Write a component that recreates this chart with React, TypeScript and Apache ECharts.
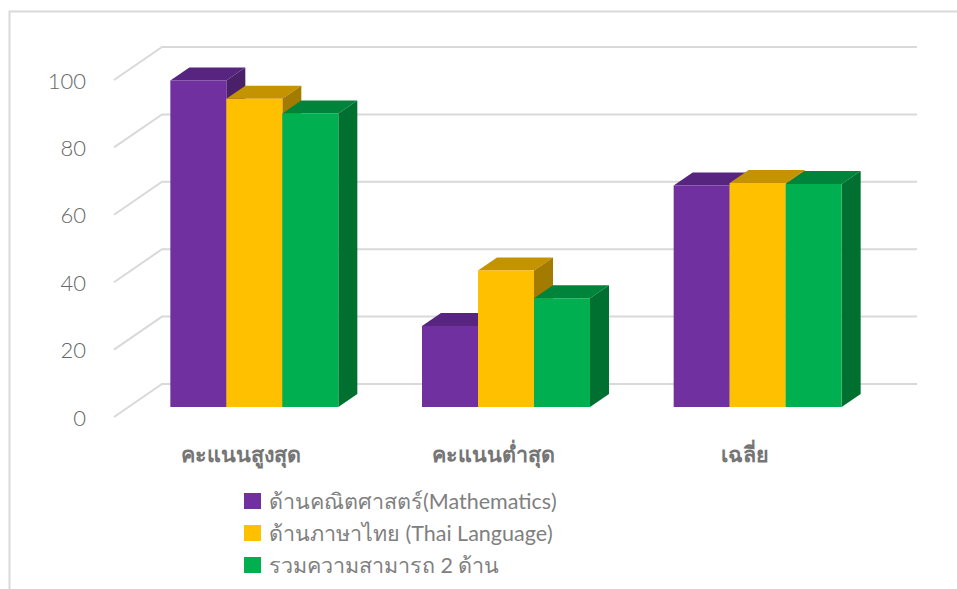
import React, { useEffect, useRef } from "react";
import * as echarts from "echarts";

const categories = ["คะแนนสูงสุด", "คะแนนต่ำสุด", "เฉลี่ย"];
const yTicks = [0, 20, 40, 60, 80, 100];
const mathValues = [96.9, 24, 65.7];
const thaiValues = [91.5, 40.5, 66.5];
const totalValues = [87.1, 32.3, 66.2];
const seriesNames = [
  "ด้านคณิตศาสตร์(Mathematics)",
  "ด้านภาษาไทย (Thai Language)",
  "รวมความสามารถ 2 ด้าน",
];
const faceColors = [
  { front: "#7030A0", top: "#572580", side: "#4A2069" },
  { front: "#FFC000", top: "#C49300", side: "#A37B00" },
  { front: "#00B050", top: "#00843C", side: "#007030" },
];

const FONT = "Lato, 'Noto Sans', sans-serif";
const FLOOR_DX = 48;
const FLOOR_DY = 33;
const BAR_DX = 19;
const BAR_DY = 13;
const BAR_FRACTION = 56 / 251.67;

function barSeries(name: string, values: number[], index: number) {
  const colors = faceColors[index];
  return {
    type: "custom",
    name,
    z: 5,
    itemStyle: { color: colors.front },
    data: values.map((v, i) => [i, v]),
    encode: { x: 0, y: 1 },
    renderItem: (_params: any, api: any) => {
      const cat = api.value(0);
      const val = api.value(1);
      const center = api.coord([cat, val]);
      const base = api.coord([cat, 0]);
      const w = api.size([1, 0])[0] * BAR_FRACTION;
      const offX = (FLOOR_DX - BAR_DX) / 2;
      const offY = (FLOOR_DY - BAR_DY) / 2;
      const x0 = center[0] + offX + (index - 1.5) * w;
      const x1 = x0 + w;
      const yTop = center[1] - offY;
      const yBase = base[1] - offY;
      return {
        type: "group",
        children: [
          {
            type: "polygon",
            shape: {
              points: [
                [x0, yTop],
                [x0 + BAR_DX, yTop - BAR_DY],
                [x1 + BAR_DX, yTop - BAR_DY],
                [x1, yTop],
              ],
            },
            style: { fill: colors.top },
          },
          {
            type: "polygon",
            shape: {
              points: [
                [x1, yTop],
                [x1 + BAR_DX, yTop - BAR_DY],
                [x1 + BAR_DX, yBase - BAR_DY],
                [x1, yBase],
              ],
            },
            style: { fill: colors.side },
          },
          {
            type: "rect",
            shape: { x: x0, y: yTop, width: w, height: yBase - yTop },
            style: { fill: colors.front },
          },
        ],
      };
    },
  };
}

export default function App() {
  const ref = useRef<HTMLDivElement>(null);

  useEffect(() => {
    const chart = echarts.init(ref.current!, undefined, { renderer: "svg" });
    chart.setOption({
      animation: false,
      backgroundColor: "#ffffff",
      textStyle: { fontFamily: FONT },
      graphic: [
        {
          type: "polyline",
          shape: { points: [[9.5, 589], [9.5, 11.5], [957, 11.5]] },
          style: { fill: "none", stroke: "#d9d9d9", lineWidth: 2 },
        },
      ],
      grid: { left: 114, top: 80, width: 755, height: 337 },
      xAxis: {
        type: "category",
        data: categories,
        axisLine: { show: false },
        axisTick: { show: false },
        axisLabel: {
          margin: 26,
          fontSize: 21.5,
          fontWeight: "bold",
          color: "#757575",
          fontFamily: FONT,
          padding: [0, 0, 0, 3],
        },
      },
      yAxis: {
        type: "value",
        min: 0,
        max: 100,
        interval: 20,
        axisLine: { show: false },
        axisTick: { show: false },
        splitLine: { show: false },
        axisLabel: { margin: 28, fontSize: 22, fontWeight: 300, color: "#666666", fontFamily: FONT },
      },
      legend: {
        orient: "vertical",
        left: 244,
        top: 490,
        padding: 0,
        itemWidth: 17,
        itemHeight: 16,
        itemGap: 10,
        icon: "rect",
        textStyle: {
          fontSize: 21.5,
          color: "#808080",
          fontFamily: FONT,
          padding: [0, 0, 0, 3],
        },
        data: seriesNames,
      },
      series: [
        {
          type: "custom",
          silent: true,
          z: 1,
          data: yTicks.map((t) => [0, t]),
          encode: { x: 0, y: 1 },
          renderItem: (params: any, api: any) => {
            const y = api.coord([0, api.value(1)])[1];
            const left = params.coordSys.x;
            const right = left + params.coordSys.width;
            return {
              type: "polyline",
              shape: {
                points: [
                  [left, y],
                  [left + FLOOR_DX, y - FLOOR_DY],
                  [right + FLOOR_DX, y - FLOOR_DY],
                ],
              },
              style: { fill: "none", stroke: "#d9d9d9", lineWidth: 2 },
            };
          },
        },
        barSeries(seriesNames[0], mathValues, 0),
        barSeries(seriesNames[1], thaiValues, 1),
        barSeries(seriesNames[2], totalValues, 2),
      ],
    });
    return () => chart.dispose();
  }, []);

  return (
    <div
      ref={ref}
      style={{ position: "fixed", left: 0, top: 0, width: 957, height: 589 }}
    />
  );
}
